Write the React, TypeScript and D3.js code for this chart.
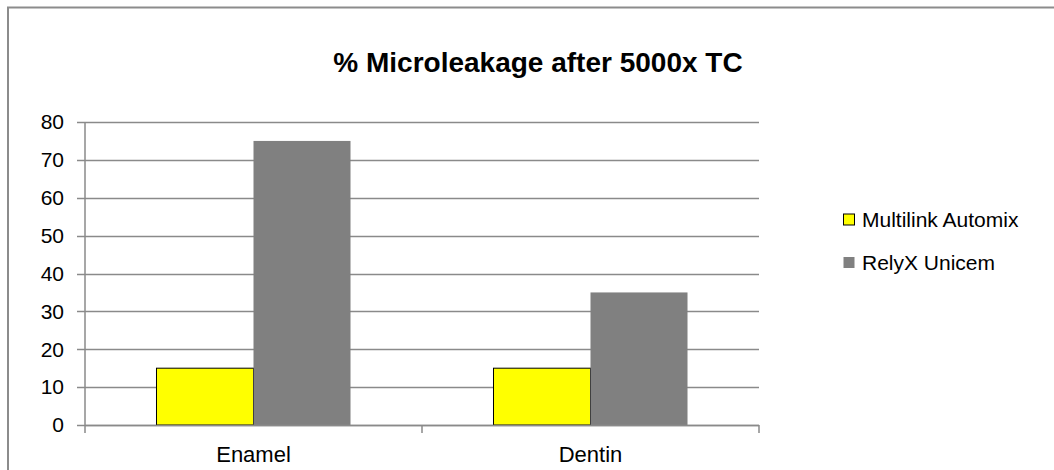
import React from 'react'
import * as d3 from 'd3'

const categories = ['Enamel', 'Dentin']
const seriesNames = ['Multilink Automix', 'RelyX Unicem']
const multilink = [15, 15]
const relyx = [75, 35]
const yTicks = [0, 10, 20, 30, 40, 50, 60, 70, 80]
const colors = ['#ffff00', '#808080']

const W = 1054
const H = 470
const font = '"Liberation Sans", Arial, sans-serif'

const App = () => {
    const left = 85
    const right = 759
    const top = 122
    const bottom = 425

    const x0 = d3.scaleBand().domain(categories).range([left, right]).padding(0)
    const x1 = d3.scaleBand().domain(seriesNames).range([0, x0.bandwidth()])
        .paddingInner(0).paddingOuter(0.737)
    const y = d3.scaleLinear().domain([0, 80]).range([bottom, top])

    const values = [multilink, relyx]
    const gridColor = '#8a8a8a'

    // category boundary ticks
    const bounds = categories.map(c => x0(c)).concat([right])

    return (
        <svg width={W} height={H} style={{ position: 'absolute', left: 0, top: 0, background: '#fff' }}
            fontFamily={font}>
            {/* chart frame */}
            <rect x={8} y={7.5} width={1100} height={600} fill="none" stroke="#8c8c8c" strokeWidth={2} />

            <text x={538} y={72} textAnchor="middle" fontSize={28} fontWeight="bold" fill="#000">
                % Microleakage after 5000x TC
            </text>

            {/* gridlines + y ticks */}
            {yTicks.map(t => (
                <g key={t}>
                    <line x1={left - 8} x2={right} y1={Math.round(y(t)) + 0.5} y2={Math.round(y(t)) + 0.5}
                        stroke={gridColor} strokeWidth={1.5} />
                    <text x={64} y={y(t)} dy="0.35em" textAnchor="end" fontSize={21} fill="#000">{t}</text>
                </g>
            ))}
            <line x1={left} x2={left} y1={top} y2={bottom} stroke={gridColor} strokeWidth={1.5} />

            {/* bars */}
            {categories.map((c, ci) => (
                <g key={c} transform={`translate(${x0(c)},0)`}>
                    {seriesNames.map((s, si) => (
                        <rect key={s} x={x1(s)} y={y(values[si][ci])}
                            width={x1.bandwidth()} height={bottom - y(values[si][ci])}
                            fill={colors[si]} stroke={si === 0 ? '#000' : 'none'} strokeWidth={1} />
                    ))}
                </g>
            ))}

            {/* x axis */}
            <line x1={left} x2={right} y1={bottom + 0.5} y2={bottom + 0.5} stroke={gridColor} strokeWidth={1.5} />
            {bounds.map((b, i) => (
                <line key={i} x1={b} x2={b} y1={bottom} y2={bottom + 8} stroke={gridColor} strokeWidth={1.5} />
            ))}
            {categories.map(c => (
                <text key={c} x={x0(c) + x0.bandwidth() / 2} y={462} textAnchor="middle" fontSize={22} fill="#000">
                    {c}
                </text>
            ))}

            {/* legend */}
            {seriesNames.map((s, i) => (
                <g key={s} transform={`translate(843,${220 + i * 43})`}>
                    <rect x={0.5} y={-6} width={11} height={11} fill={colors[i]}
                        stroke={i === 0 ? '#000' : 'none'} strokeWidth={1} />
                    <text x={19} y={0} dy="0.35em" fontSize={21} fill="#000">{s}</text>
                </g>
            ))}
        </svg>
    )
}

export default App
